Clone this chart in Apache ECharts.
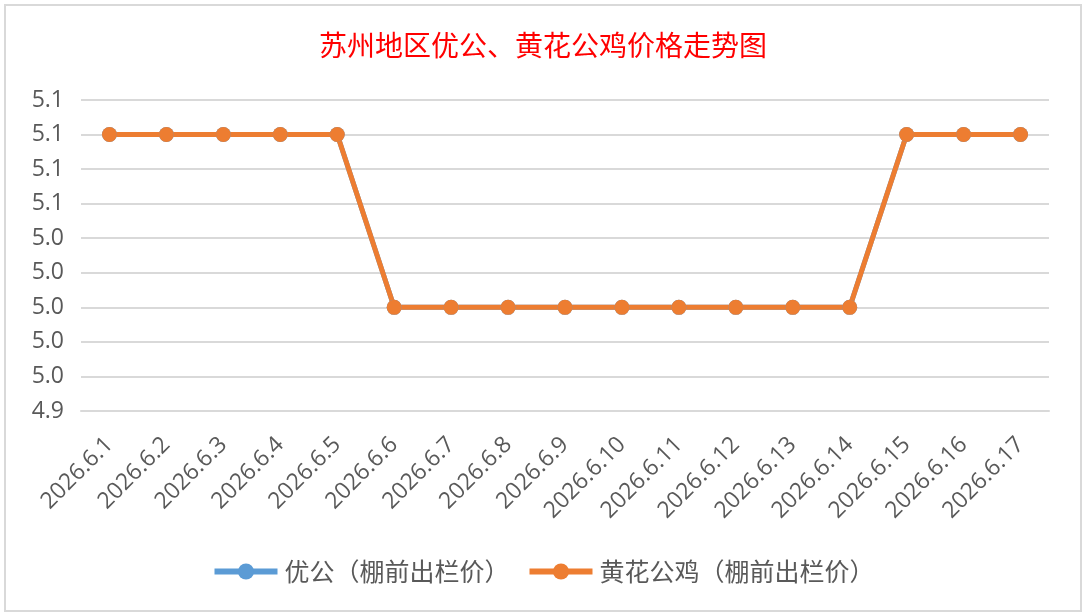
<!DOCTYPE html>
<html><head><meta charset="utf-8">
<script src="https://cdn.jsdelivr.net/npm/echarts@6/dist/echarts.min.js"></script>
<style>
html,body{margin:0;padding:0;background:#fff;}
#wrap{position:absolute;left:4px;top:4px;width:1074px;height:604px;border:2px solid #d9d9d9;background:#fff;}
#chart{width:100%;height:100%;}
</style></head><body>
<div id="wrap"><div id="chart"></div></div>
<script>
const titleText = '苏州地区优公、黄花公鸡价格走势图';
const categories = ['2026.6.1','2026.6.2','2026.6.3','2026.6.4','2026.6.5','2026.6.6','2026.6.7','2026.6.8','2026.6.9','2026.6.10','2026.6.11','2026.6.12','2026.6.13','2026.6.14','2026.6.15','2026.6.16','2026.6.17'];
const seriesNames = ['优公（棚前出栏价）','黄花公鸡（棚前出栏价）'];
const youGong = [5.10,5.10,5.10,5.10,5.10,5.00,5.00,5.00,5.00,5.00,5.00,5.00,5.00,5.00,5.10,5.10,5.10];
const huangHua = [5.10,5.10,5.10,5.10,5.10,5.00,5.00,5.00,5.00,5.00,5.00,5.00,5.00,5.00,5.10,5.10,5.10];
const yMin = 4.94, yMax = 5.12, yStep = 0.02;

const chart = echarts.init(document.getElementById('chart'));
const font = '"Noto Sans CJK SC", "Noto Sans", sans-serif';
const numFont = '"Open Sans", "Noto Sans", sans-serif';
chart.setOption({
  animation:false,
  title:{text:titleText,left:'center',top:20,textStyle:{color:'#ff0000',fontSize:28,fontWeight:'normal',fontFamily:font}},
  grid:{left:75,right:31,top:94,bottom:199,containLabel:false},
  legend:{bottom:21,left:'center',itemWidth:63,itemHeight:20,itemGap:17,
    lineStyle:{width:6},
    textStyle:{color:'#595959',fontSize:25,fontFamily:font,padding:[0,0,0,2]},
    data:seriesNames},
  xAxis:{type:'category',data:categories,boundaryGap:true,
    axisLine:{show:true,lineStyle:{color:'#d9d9d9',width:2}},
    axisTick:{show:false},
    axisLabel:{rotate:45,color:'#595959',fontSize:23,fontFamily:numFont,margin:30,interval:0}},
  yAxis:{type:'value',min:yMin,max:yMax,interval:yStep,
    axisLine:{show:false},axisTick:{show:false},
    splitLine:{lineStyle:{color:'#d9d9d9',width:2}},
    axisLabel:{color:'#595959',fontSize:23,fontFamily:numFont,margin:17,formatter:v=>v.toFixed(1)}},
  series:[
    {name:seriesNames[0],type:'line',data:youGong,symbol:'circle',symbolSize:15,
      lineStyle:{color:'#5B9BD5',width:5},itemStyle:{color:'#5B9BD5'}},
    {name:seriesNames[1],type:'line',data:huangHua,symbol:'circle',symbolSize:15,
      lineStyle:{color:'#ED7D31',width:5},itemStyle:{color:'#ED7D31'}}
  ]
});
</script>
</body></html>
